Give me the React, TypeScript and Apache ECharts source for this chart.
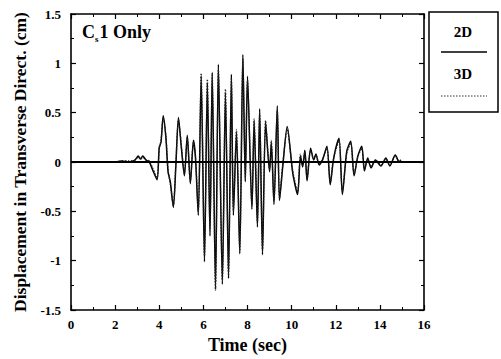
import React, { useEffect, useRef } from "react";
import * as echarts from "echarts";

const times = [0, 2.0, 2.3, 2.6, 2.9, 3.05, 3.15, 3.25, 3.4, 3.55, 3.7, 3.9, 4.0, 4.08, 4.18, 4.3, 4.4, 4.5, 4.64, 4.75, 4.87, 5.0, 5.14, 5.27, 5.41, 5.55, 5.64, 5.77, 5.9, 6.05, 6.18, 6.3, 6.4, 6.55, 6.68, 6.86, 7.0, 7.14, 7.27, 7.36, 7.5, 7.65, 7.79, 7.9, 8.0, 8.2, 8.3, 8.45, 8.55, 8.68, 8.82, 9.0, 9.08, 9.2, 9.35, 9.45, 9.6, 9.8, 10.05, 10.27, 10.4, 10.5, 10.6, 10.7, 10.86, 11.0, 11.1, 11.25, 11.4, 11.6, 11.75, 11.88, 12.0, 12.15, 12.3, 12.5, 12.68, 12.83, 13.0, 13.18, 13.3, 13.45, 13.6, 13.8, 14.05, 14.27, 14.45, 14.7, 14.87, 14.95];

const disp2D = [0, 0, 0.01, 0, 0.02, 0.06, 0.03, 0.06, 0.02, 0, -0.08, -0.18, 0.15, 0.2, 0.47, 0.25, -0.1, -0.2, -0.46, -0.05, 0.45, 0.15, -0.14, 0.27, -0.22, 0.22, 0.05, -0.54, 0.87, -1.01, 0.8, -0.75, 0.91, -1.29, 0.99, -1.24, 0.7, -1.18, 0.89, -0.54, 0.3, -0.93, 1.09, -0.2, 0.87, -0.48, 0.41, -0.66, 0.54, -0.94, 0.4, -0.1, 0.2, -0.43, 0.57, -0.39, -0.04, 0.36, -0.11, -0.33, 0.06, -0.05, 0.12, -0.19, 0.14, 0.02, 0.08, -0.03, 0.02, 0.16, -0.23, 0.0, 0.14, 0.24, -0.33, 0.11, 0.21, -0.14, 0.06, 0.16, -0.09, 0.04, -0.06, 0.02, -0.04, 0.04, -0.04, 0.07, 0.0, 0.02];

const disp3D = [0, 0, 0.01, 0.01, 0.02, 0.05, 0.03, 0.05, 0.02, 0.01, -0.06, -0.16, 0.13, 0.22, 0.45, 0.27, -0.08, -0.22, -0.44, -0.03, 0.43, 0.17, -0.12, 0.25, -0.2, 0.2, 0.07, -0.5, 0.9, -0.97, 0.84, -0.7, 0.88, -1.3, 0.95, -1.2, 0.74, -1.15, 0.85, -0.5, 0.33, -0.9, 1.05, -0.17, 0.83, -0.45, 0.44, -0.62, 0.5, -0.9, 0.42, -0.08, 0.22, -0.4, 0.53, -0.37, -0.02, 0.33, -0.09, -0.3, 0.08, -0.03, 0.1, -0.17, 0.12, 0.03, 0.07, -0.02, 0.03, 0.14, -0.21, 0.01, 0.12, 0.22, -0.3, 0.09, 0.19, -0.12, 0.05, 0.14, -0.08, 0.03, -0.05, 0.02, -0.03, 0.03, -0.03, 0.06, 0.01, 0.02];

const seriesNames = ["2D", "3D"];
const xTitle = "Time (sec)";
const yTitle = "Displacement in Transverse Direct. (cm)";

const FONT = "'Liberation Serif', 'DejaVu Serif', serif";

export default function App() {
  const ref = useRef<HTMLDivElement>(null);
  useEffect(() => {
    if (!ref.current) return;
    const chart = echarts.init(ref.current, undefined, { renderer: "svg" });
    const d2 = times.map((t, i) => [t, disp2D[i]]);
    const d3 = times.map((t, i) => [t, disp3D[i]]);
    const tickLabel = { fontFamily: FONT, fontWeight: "bold" as const, fontSize: 13, color: "#000" };
    const axisCommon = {
      axisLine: { show: true, onZero: false, lineStyle: { color: "#000", width: 1.6 } },
      axisTick: { show: true, inside: true, length: 5, lineStyle: { color: "#000", width: 1.2 } },
      minorTick: { show: true, splitNumber: 2, length: 3, lineStyle: { color: "#000", width: 1 } },
      splitLine: { show: false },
      minorSplitLine: { show: false },
    };
    chart.setOption({
      animation: false,
      grid: { left: 71, right: 77, top: 14, bottom: 46, show: false },
      xAxis: [
        {
          type: "value", min: 0, max: 16, interval: 2, position: "bottom",
          ...axisCommon,
          axisLabel: { ...tickLabel, margin: 8 },
          name: xTitle, nameLocation: "middle", nameGap: 26,
          nameTextStyle: { fontFamily: FONT, fontWeight: "bold", fontSize: 18, color: "#000" },
        },
        {
          type: "value", min: 0, max: 16, interval: 2, position: "top",
          ...axisCommon, axisLabel: { show: false },
        },
      ],
      yAxis: [
        {
          type: "value", min: -1.5, max: 1.5, interval: 0.5, position: "left",
          ...axisCommon,
          axisLabel: { ...tickLabel, margin: 10 },
          name: yTitle, nameLocation: "middle", nameGap: 42,
          nameTextStyle: { fontFamily: FONT, fontWeight: "bold", fontSize: 17.5, color: "#000" },
        },
        {
          type: "value", min: -1.5, max: 1.5, interval: 0.5, position: "right",
          ...axisCommon, axisLabel: { show: false },
        },
      ],
      series: [
        {
          name: seriesNames[0], type: "line", data: d2, showSymbol: false, smooth: 0.25,
          lineStyle: { color: "#000", width: 1.5, type: "solid" },
          markLine: {
            silent: true, symbol: "none", label: { show: false },
            lineStyle: { color: "#000", width: 1.8, type: "solid" },
            data: [{ yAxis: 0 }],
          },
        },
        {
          name: seriesNames[1], type: "line", data: d3, showSymbol: false, smooth: 0.25,
          lineStyle: { color: "#222", width: 1.3, type: [1.5, 1.5] },
        },
      ],
      graphic: [
        {
          type: "text", left: 82, top: 23,
          style: {
            text: "{a|C}{b|s}{a|1 Only}",
            rich: {
              a: { fontFamily: FONT, fontWeight: "bold", fontSize: 18, color: "#000", verticalAlign: "bottom" },
              b: { fontFamily: FONT, fontWeight: "bold", fontSize: 9, color: "#000", verticalAlign: "bottom", padding: [0, 1, -2, 0] },
            },
          },
        },
        {
          type: "rect", shape: { x: 429, y: 12, width: 69, height: 100 },
          style: { fill: "#fff", stroke: "#000", lineWidth: 1.5 },
        },
        {
          type: "text", x: 463, y: 32,
          style: { text: seriesNames[0], fontFamily: FONT, fontWeight: "bold", fontSize: 15, fill: "#000", align: "center", verticalAlign: "middle" },
        },
        {
          type: "line", shape: { x1: 441, y1: 52, x2: 487, y2: 52 },
          style: { stroke: "#000", lineWidth: 1.5 },
        },
        {
          type: "text", x: 463, y: 74,
          style: { text: seriesNames[1], fontFamily: FONT, fontWeight: "bold", fontSize: 15, fill: "#000", align: "center", verticalAlign: "middle" },
        },
        {
          type: "line", shape: { x1: 441, y1: 96, x2: 487, y2: 96 },
          style: { stroke: "#333", lineWidth: 1, lineDash: [1.5, 1.5] },
        },
      ],
    });
    return () => chart.dispose();
  }, []);
  return (
    <div
      ref={ref}
      style={{ position: "fixed", left: 0, top: 0, width: 501, height: 359, background: "#fff" }}
    />
  );
}
